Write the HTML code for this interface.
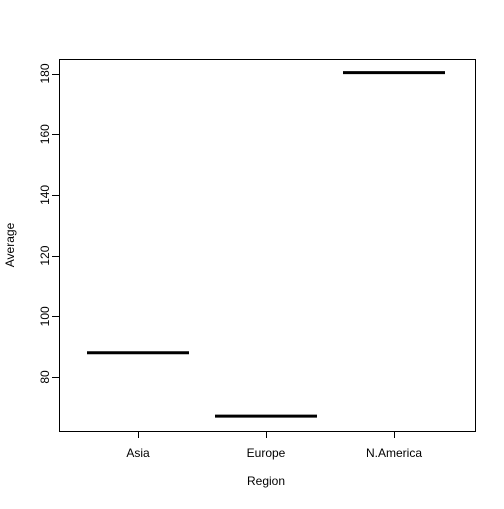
<!DOCTYPE html>
<html><head><meta charset="utf-8"><style>
body{margin:0;background:#fff}
svg text{font-family:"Liberation Sans",Arial,sans-serif;font-size:12px;fill:#000}
</style></head><body>
<svg id="chart" width="504" height="504">
<rect x="59.5" y="59.5" width="416" height="372" fill="none" stroke="#000"/>
<g id="marks"></g>
<g id="yaxis"></g>
<g id="xaxis"></g>
<text x="266" y="485" text-anchor="middle">Region</text>
<text transform="translate(14,245) rotate(-90)" text-anchor="middle">Average</text>
</svg>
<script>
const categories=["Asia","Europe","N.America"];
const values=[88,67.1,180.3];
const yTicks=[80,100,120,140,160,180];
const ns="http://www.w3.org/2000/svg";
function y(v){return 377-(v-80)*3.035;}
function xc(i){return 138+i*128;}
const marks=document.getElementById('marks'),ya=document.getElementById('yaxis'),xa=document.getElementById('xaxis');
function mk(tag,attrs,parent){const e=document.createElementNS(ns,tag);for(const k in attrs)e.setAttribute(k,attrs[k]);parent.appendChild(e);return e;}
values.forEach((v,i)=>{
 const l=mk('line',{x1:xc(i)-51,x2:xc(i)+51,y1:y(v),y2:y(v),stroke:'#000','stroke-width':3},marks);
 
 
 const t=mk('line',{x1:xc(i)+0.5,x2:xc(i)+0.5,y1:431,y2:438,stroke:'#000'},xa);
 
 
 const lb=mk('text',{x:xc(i),y:457,'text-anchor':'middle'},xa);lb.textContent=categories[i];
 
 
});
mk('line',{x1:59.5,x2:59.5,y1:y(180),y2:y(80),stroke:'#000'},ya);
yTicks.forEach(v=>{
 const t=mk('line',{x1:52,x2:59.5,y1:Math.round(y(v))+0.5,y2:Math.round(y(v))+0.5,stroke:'#000'},ya);
 
 
 const lb=mk('text',{transform:`translate(49,${y(v)}) rotate(-90)`,'text-anchor':'middle'},ya);lb.textContent=v;
 
 
});
</script>
</body></html>
